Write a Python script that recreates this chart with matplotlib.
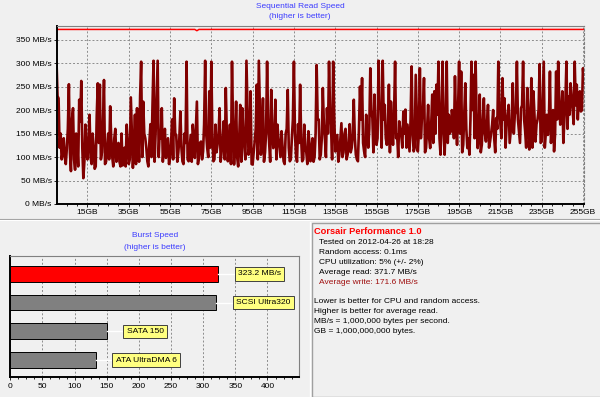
import matplotlib.pyplot as plt
from matplotlib.lines import Line2D
from matplotlib.patches import Rectangle

#
# Data
#

# Sequential read trace (MB/s): samples on every whole GB from 0 to 255 ...
seq_speed = [
    305, 225, 150, 110, 100, 118, 255, 70, 204, 73, 130, 222, 262, 55, 169, 95,
    190, 85, 120, 80, 257, 254, 110, 264, 90, 150, 208, 100, 140, 90, 130, 80,
    82, 120, 169, 85, 227, 77, 190, 204, 90, 303, 218, 140, 91, 133, 100, 305,
    150, 305, 155, 204, 120, 98, 140, 98, 180, 225, 147, 110, 197, 91, 150, 303,
    91, 147, 169, 98, 218, 100, 133, 112, 305, 119, 240, 303, 91, 169, 126, 204,
    112, 176, 247, 91, 169, 303, 84, 218, 80, 211, 204, 120, 305, 105, 240, 84,
    133, 254, 305, 105, 225, 110, 303, 130, 243, 119, 222, 169, 119, 155, 91, 150,
    243, 91, 140, 303, 105, 170, 254, 91, 169, 110, 155, 91, 140, 100, 296, 180,
    105, 247, 140, 204, 303, 160, 303, 112, 147, 105, 172, 110, 160, 105, 170, 120,
    222, 105, 91, 250, 268, 112, 190, 120, 289, 183, 233, 126, 305, 200, 305, 211,
    126, 254, 218, 126, 303, 147, 176, 147, 197, 201, 169, 112, 293, 112, 275, 112,
    289, 183, 268, 119, 211, 119, 233, 240, 254, 303, 105, 303, 105, 303, 190, 155,
    183, 272, 126, 303, 282, 126, 257, 119, 105, 303, 275, 303, 119, 233, 126, 225,
    133, 211, 133, 169, 140, 183, 303, 170, 268, 225, 169, 211, 155, 257, 190, 303,
    155, 204, 303, 155, 247, 116, 268, 240, 133, 180, 298, 133, 303, 150, 147, 282,
    160, 112, 282, 303, 169, 240, 180, 303, 229, 257, 200, 303, 254, 225, 197, 289,
]
# ... and the samples half a GB after each of them
seq_speed_mid = [
    230, 120, 95, 140, 85, 160, 110, 180, 95, 150, 80, 175, 120, 90, 110, 140,
    100, 150, 75, 190, 130, 95, 170, 85, 120, 95, 140, 80, 160, 115, 90, 150,
    110, 80, 130, 95, 150, 120, 85, 140, 230, 100, 150, 120, 80, 170, 210, 90,
    230, 100, 140, 90, 160, 120, 85, 130, 95, 150, 90, 140, 120, 85, 130, 95,
    120, 90, 140, 160, 85, 130, 95, 170, 150, 100, 120, 140, 95, 110, 150, 90,
    140, 95, 150, 120, 85, 170, 130, 100, 140, 90, 150, 95, 200, 120, 85, 110,
    160, 95, 200, 140, 90, 150, 180, 90, 160, 130, 95, 140, 100, 120, 85, 160,
    120, 95, 180, 150, 90, 130, 140, 95, 120, 85, 130, 110, 90, 150, 180, 95,
    140, 170, 100, 150, 200, 95, 190, 130, 90, 140, 100, 150, 95, 130, 110, 150,
    140, 95, 160, 180, 130, 100, 150, 160, 200, 110, 150, 140, 210, 120, 180, 140,
    150, 110, 160, 190, 140, 100, 160, 120, 150, 120, 140, 180, 150, 120, 190, 150,
    140, 200, 110, 160, 140, 170, 130, 150, 190, 140, 200, 150, 180, 130, 150, 200,
    140, 180, 200, 150, 110, 190, 160, 140, 180, 200, 140, 180, 150, 110, 180, 150,
    170, 120, 150, 200, 110, 160, 210, 140, 180, 120, 190, 130, 180, 150, 200, 180,
    130, 210, 180, 120, 200, 150, 120, 190, 170, 200, 130, 220, 120, 190, 180, 130,
    200, 150, 180, 220, 190, 130, 220, 160, 190, 230, 170, 210, 180, 240, 200, 260,
]

# flat red trace near the top of the chart, with one small dip
top_gb = [0, 67, 68, 69, 255.5]
top_speed = [371.7, 371.7, 369, 371.7, 371.7]

gb_ticks = [15, 35, 55, 75, 95, 115, 135, 155, 175, 195, 215, 235, 255]
speed_ticks = [0, 50, 100, 150, 200, 250, 300, 350]

# Burst speed comparison
burst_labels = ["323.2 MB/s", "SCSI Ultra320", "SATA 150", "ATA UltraDMA 6"]
burst_values = [323.2, 320, 150, 133]
burst_ticks = [0, 50, 100, 150, 200, 250, 300, 350, 400]

# Info panel
info_title = "Corsair Performance 1.0"
info_lines = [
    "Tested on 2012-04-26 at 18:28",
    "Random access: 0.1ms",
    "CPU utilization: 5% (+/- 2%)",
    "Average read: 371.7 MB/s",
]
info_write = "Average write: 171.6 MB/s"
info_notes = [
    "Lower is better for CPU and random access.",
    "Higher is better for average read.",
    "MB/s = 1,000,000 bytes per second.",
    "GB = 1,000,000,000 bytes.",
]

#
# Style
#
bg = "#f0f0f0"
title_color = "#3c3cff"
grid_color = "#8c8c8c"
fs = 6.0
W, H = 600, 397

plt.rcParams["font.family"] = ["Liberation Sans", "DejaVu Sans"]


def fx(px):
    return px / W


def fy(py):
    return 1 - py / H


fig = plt.figure(figsize=(6, 3.97), dpi=100, facecolor=bg)

#
# Sequential read chart
#
trace_x, trace_y = [], []
for i, (a, b) in enumerate(zip(seq_speed, seq_speed_mid)):
    trace_x += [i, i + 0.5]
    trace_y += [a, b]

ax = fig.add_axes([fx(56.5), fy(204), (584 - 56.5) / W, (204 - 26) / H])
ax.set_facecolor(bg)
ax.plot(trace_x, trace_y, color="#800000", lw=1.9)
ax.plot(top_gb, top_speed, color="#ff0000", lw=1.1)
ax.set_xlim(0, 255.5)
ax.set_ylim(0, 379)
ax.set_xticks(gb_ticks)
ax.set_xticklabels([f"{t}GB" for t in gb_ticks])
ax.set_xticks(range(5, 256, 5), minor=True)
ax.set_yticks(speed_ticks)
ax.set_yticklabels([f"{v} MB/s" for v in speed_ticks])
ax.grid(True, color=grid_color, ls=(0, (2, 2)), lw=0.7)
ax.tick_params(labelsize=fs, length=2, width=0.6, pad=1.5)
ax.tick_params(axis="x", which="minor", length=1.5, width=0.6)
for side in ["left", "bottom"]:
    ax.spines[side].set_color("black")
    ax.spines[side].set_linewidth(1.4)
for side in ["top", "right"]:
    ax.spines[side].set_color("#808080")
    ax.spines[side].set_linewidth(0.8)
ax.spines["right"].set_linestyle((0, (2, 2)))

fig.text(0.5, fy(7), "Sequential Read Speed", ha="center", va="center",
         fontsize=fs, color=title_color)
fig.text(0.5, fy(17), "(higher is better)", ha="center", va="center",
         fontsize=fs, color=title_color)

# separator between top and bottom halves
fig.add_artist(Line2D([0, 1], [fy(218.5)] * 2, color="#a0a0a0", lw=0.8))
fig.add_artist(Line2D([0, 1], [fy(219.5)] * 2, color="white", lw=0.8))

#
# Burst speed chart
#
ax2 = fig.add_axes([fx(10.3), fy(376.5), (299 - 10.3) / W, (376.5 - 256) / H])
ax2.set_facecolor(bg)
ax2.set_axisbelow(True)
ypos = list(range(len(burst_values) - 1, -1, -1))
colors = ["#ff0000"] + ["#808080"] * (len(burst_values) - 1)
ax2.barh(ypos, burst_values, height=0.55, color=colors, edgecolor="black", lw=0.7)
for v, lab, y in zip(burst_values, burst_labels, ypos):
    ax2.plot([v, v + 26], [y, y], color="white", lw=1.0)
    ax2.text(v + 31, y, lab, ha="left", va="center", fontsize=fs + 0.1,
             bbox=dict(boxstyle="square,pad=0.4", fc="#ffff80", ec="#404040", lw=0.7))
ax2.set_xlim(0, 449)
ax2.set_ylim(-0.56, 3.61)
ax2.set_xticks(burst_ticks)
ax2.set_xticks([t * 12.5 for t in range(1, 36)], minor=True)
ax2.set_yticks([])
ax2.grid(True, axis="x", color=grid_color, ls=(0, (2, 2)), lw=0.7)
ax2.tick_params(labelsize=fs, length=2, width=0.6, pad=2.5)
ax2.tick_params(axis="x", which="minor", length=1.2, width=0.6)
for side in ["left", "bottom"]:
    ax2.spines[side].set_color("black")
    ax2.spines[side].set_linewidth(1.4)
for side in ["top", "right"]:
    ax2.spines[side].set_color("#808080")
    ax2.spines[side].set_linewidth(0.8)

fig.text(fx(155), fy(236), "Burst Speed", ha="center", va="center",
         fontsize=fs, color=title_color)
fig.text(fx(155), fy(247), "(higher is better)", ha="center", va="center",
         fontsize=fs, color=title_color)

#
# Info panel
#
fig.add_artist(Line2D([fx(309.5)] * 2, [fy(222), 0], color="white", lw=1.0))
fig.add_artist(Rectangle((fx(312), 0), 1 - fx(312) + 0.01, fy(223),
                         transform=fig.transFigure, fill=False,
                         edgecolor="#a0a0a0", lw=1.0, clip_on=False))

fig.text(fx(314), fy(231.5), info_title, ha="left", va="center",
         fontsize=fs + 0.7, color="#ff0000", fontweight="bold")
y = 242
for line in info_lines:
    fig.text(fx(319), fy(y), line, ha="left", va="center", fontsize=fs, color="black")
    y += 10
fig.text(fx(319), fy(y), info_write, ha="left", va="center", fontsize=fs, color="#a01010")
y = 301.5
for line in info_notes:
    fig.text(fx(314), fy(y), line, ha="left", va="center", fontsize=fs, color="black")
    y += 10

fig.savefig("out.png", dpi=100, facecolor=bg)
